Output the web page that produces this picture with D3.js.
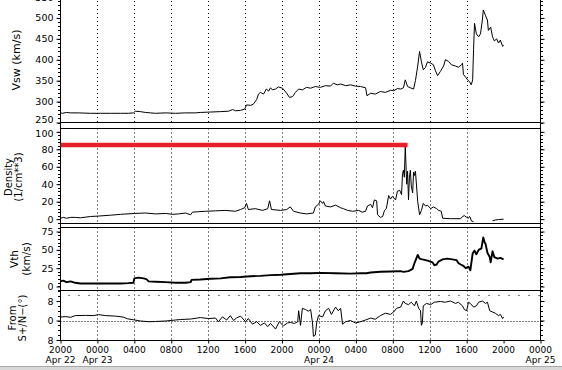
<!DOCTYPE html>
<html>
<head>
<meta charset="utf-8">
<script src="https://cdn.jsdelivr.net/npm/d3@7/dist/d3.min.js"></script>
<style>
  html, body { margin: 0; padding: 0; background: #fff; overflow: hidden; }
  svg { display: block; }
  text { font-family: "DejaVu Sans", sans-serif; fill: #000; }
</style>
</head>
<body>
<svg id="chart" width="562" height="370"></svg>
<script>
// ---------- DATA (hours since 2000 UT Apr 22) ----------
const xTickHours = [0, 4, 8, 12, 16, 20, 24, 28, 32, 36, 40, 44, 48, 52];
const xTickLabels = ["2000", "0000", "0400", "0800", "1200", "1600", "2000", "0000", "0400", "0800", "1200", "1600", "2000", "0000"];
const xDateLabels = ["Apr 22", "Apr 23", "", "", "", "", "", "Apr 24", "", "", "", "", "", "Apr 25"];
const gridHours = [4, 8, 12, 16, 20, 24, 28, 32, 36, 40, 44];

const vswTicks = [250, 300, 350, 400, 450, 500, 550];
const densTicks = [0, 20, 40, 60, 80, 100];
const vthTicks = [0, 25, 50, 75];
const angTicks = [-8, 0, 8];
const angTickLabels = ["8", "0", "8"];

const vswData = [
[0.0,273],[0.2,272],[0.65,274],[1.1,273],[1.95,273],[3.25,272],[4.35,272],[5.4,272],[6.5,272],[7.35,272],
[7.9,273],[8.1,277],[8.65,276],[9.2,274],[9.75,273],[10.3,272],[11.4,273],[12.45,272],[13.55,273],[14.6,273],
[15.15,274],[16.25,275],[17.35,276],[18.2,277],[18.65,281],[18.95,278],[19.5,279],[19.95,282],[20.15,292],[20.6,291],
[20.9,294],[21.25,305],[21.45,318],[21.65,322],[22.0,318],[22.3,330],[22.55,325],[22.75,333],[22.95,328],[23.3,330],
[23.6,335],[24.05,332],[24.5,320],[24.8,310],[25.15,312],[25.45,322],[25.8,330],[26.2,328],[26.65,334],[27.1,332],
[27.6,336],[28.15,334],[28.7,338],[29.25,337],[29.55,344],[30.0,340],[30.35,342],[30.9,338],[31.4,340],[31.95,337],
[32.5,336],[33.05,333],[33.2,314],[33.6,320],[34.1,318],[34.65,324],[35.2,322],[35.75,327],[36.1,326],[36.5,331],
[36.85,330],[37.15,333],[37.35,352],[37.6,336],[37.9,333],[38.25,330],[38.45,350],[38.7,385],[38.9,420],[39.1,395],
[39.3,376],[39.55,382],[39.75,395],[40.1,392],[40.4,388],[40.6,375],[40.85,362],[41.15,372],[41.5,385],[41.7,400],
[42.05,396],[42.35,388],[42.8,385],[43.1,382],[43.45,388],[43.55,392],[43.65,365],[43.9,358],[44.1,352],[44.3,348],
[44.5,340],[44.65,352],[44.75,425],[44.85,487],[45.05,462],[45.3,455],[45.5,462],[45.7,495],[45.8,519],[46.05,505],
[46.25,495],[46.35,470],[46.6,478],[46.8,455],[47.0,445],[47.25,450],[47.45,440],[47.65,447],[47.9,432],[48.0,435]
];

const densData = [
[0,1],[0.3,2],[0.65,1],[1.1,2],[1.6,2],[2.15,1.5],[3.25,3],[4.1,3.5],[5.4,4.5],[6.5,5.5],
[8.0,6.5],[9.2,7],[10.3,6],[11.4,6.5],[12.15,5.5],[12.8,6],[13.55,7],[14.1,5],[14.3,8],[14.95,8.5],
[15.7,9],[16.8,9.5],[17.85,10],[18.95,9],[19.5,11],[19.95,13],[20.15,18],[20.35,11],[21.1,12],[21.9,10],
[22.45,12],[22.65,21],[22.85,11],[23.85,10],[24.5,11],[24.9,14],[25.25,9],[26.0,7],[26.65,6],[27.4,7],
[27.6,14],[27.95,17],[28.15,21],[28.4,18],[28.5,20],[28.7,15],[29.25,14],[29.8,16],[30.35,13],[30.65,12],
[31.1,10],[31.65,9],[32.3,10],[32.7,8],[33.05,9],[33.25,15],[33.6,17],[33.8,13],[34.0,22],[34.25,21],
[34.35,5],[34.65,2],[34.9,3],[35.1,10],[35.3,12],[35.55,27],[35.75,23],[35.95,26],[36.3,22],[36.5,32],
[36.75,33],[36.95,28],[37.05,52],[37.15,56],[37.25,48],[37.35,85],[37.5,40],[37.6,55],[37.7,22],[37.8,48],
[37.9,56],[38.0,38],[38.15,30],[38.25,54],[38.35,50],[38.45,55],[38.7,20],[38.9,5],[39.1,10],[39.3,18],
[39.55,15],[39.75,16],[40.1,12],[40.4,14],[40.75,12],[40.95,10],[41.25,9],[41.4,1],[42.25,0.5],[43.35,0.5],
[43.55,3],[43.75,4],[44.0,2],[44.2,1],[44.3,3],[44.4,2],[44.5,-2],[44.75,-3],[45.0,null],
[46.8,-2],[47.1,-1],[47.45,-0.5],[48.0,0]
];

const markerHours = [0, 37.6];
const markerDensity = [85, 85];

const vthData = [
[0,7],[0.3,8],[0.65,6],[1.1,7],[1.6,5],[2.15,4],[3.25,4],[4.35,4],[5.4,4],[6.5,4],
[7.35,4.5],[7.9,5],[8.0,11],[8.45,12],[9.0,11],[9.3,10],[9.55,7],[10.3,6.5],[11.4,6],[12.45,5],
[13.55,5],[14.1,6],[14.2,9],[15.15,9.5],[16.25,10.5],[17.35,11],[18.4,12.5],[19.5,13],[20.6,14],[21.65,14.5],
[22.75,15.5],[23.85,16],[24.9,17],[26.0,18],[27.1,18],[28.15,18.5],[29.8,18],[31.4,17.5],[32.5,18],[33.15,18],
[33.6,19],[34.65,20],[35.75,20.5],[36.85,21],[37.15,20],[37.7,21],[38.15,24],[38.35,32],[38.7,43],[38.9,38],
[39.2,37],[39.55,36],[39.85,35],[40.3,33],[40.5,29],[40.75,30],[40.95,34],[41.4,37],[41.9,38],[42.45,37],
[42.9,36],[43.1,32],[43.35,30],[43.65,28],[43.9,25],[44.2,27],[44.4,22],[44.65,45],[44.85,49],[45.05,44],
[45.3,50],[45.6,52],[45.8,67],[45.95,60],[46.05,58],[46.25,46],[46.5,40],[46.6,33],[46.8,48],[47.0,40],
[47.35,38],[47.65,39],[48.0,37]
];

const angData = [
[0,1.4],[0.55,1.6],[1.1,1.3],[1.6,2],[2.7,2.1],[3.6,2],[4.1,2.4],[4.9,2],[5.95,1.8],[6.8,1.4],
[7.25,0.7],[7.9,0.3],[8.65,-0.2],[9.55,-0.5],[10.3,-0.4],[11.4,-0.2],[12.45,0.2],[13.0,0.4],[14.1,0.6],[15.15,1.2],
[16.05,0.8],[16.8,1],[17.1,-0.5],[17.55,1.5],[18.0,0.2],[18.4,2],[18.75,0],[19.05,1],[19.5,1.8],[20.05,-0.5],
[20.35,0.8],[20.8,-1.5],[21.25,-0.5],[21.65,-2],[22.1,-1],[22.45,-2.5],[22.75,-1.2],[23.3,-3.5],[23.7,-0.5],[24.15,-2.2],
[24.6,-1],[24.9,-0.8],[25.35,-1.2],[25.7,-0.5],[25.8,4],[26.0,-2],[26.2,5],[26.55,4.5],[26.85,3.8],[27.1,4.5],
[27.3,-1],[27.4,-6.5],[27.6,-6],[27.75,-1],[27.95,2],[28.4,1.5],[28.7,4],[29.05,5],[29.35,2.5],[29.8,5.5],
[30.1,4],[30.35,5],[30.55,-1.5],[30.9,-0.5],[31.4,0],[31.95,-1],[32.5,-0.5],[33.05,0.2],[33.6,1],[34.1,0.5],
[34.65,2],[35.2,3],[35.75,2.5],[36.1,3.5],[36.4,5],[36.85,5.5],[37.15,8],[37.35,7],[37.7,6.5],[38.0,7.5],
[38.35,6],[38.55,8],[38.8,5],[39.0,4],[39.1,-2],[39.2,-1],[39.3,6],[39.65,7],[40.1,6.5],[40.5,7.5],
[41.15,7.8],[41.7,7.5],[42.25,8],[42.8,7],[43.1,7.5],[43.55,6],[43.75,4.5],[44.0,4],[44.2,7.5],[44.4,7],
[44.75,5.5],[45.05,6],[45.3,7.5],[45.7,8],[46.05,7],[46.25,7.5],[46.5,4],[46.8,3.5],[47.1,3],[47.45,2],
[47.65,2.5],[47.9,0.8],[48.0,1.5]
];

// ---------- LAYOUT ----------
const svg = d3.select("#chart");
const X0 = 60.5, X1 = 540.5;
const x = d3.scaleLinear().domain([0, 52]).range([X0, X1]);

const panels = [
  { key: "vsw", top: -3, bottom: 122.5, domain: [250, 550], ticks: vswTicks, labels: vswTicks.map(String), minor: 10, data: vswData, width: 1,
    title: ["Vsw (km/s)"], titleX: [16], titleSize: 11, titleY: 60, shift: { 250: -3.5 } },
  { key: "dens", top: 128.5, bottom: 223.5, domain: [-5, 103.8], ticks: densTicks, labels: densTicks.map(String), minor: 4, data: densData, width: 1,
    title: ["Density", "(1/cm**3)"], titleX: [8, 18], titleSize: 10, titleY: 177, shift: { 100: 1.5 } },
  { key: "vth", top: 227.5, bottom: 290.5, domain: [-5.5, 80.5], ticks: vthTicks, labels: vthTicks.map(String), minor: 5, data: vthData, width: 1.9,
    title: ["Vth", "(km/s)"], titleX: [14, 26], titleSize: 10.5, titleY: 259, shift: {} },
  { key: "ang", top: 290.5, bottom: 340.5, domain: [-8.2, 12.3], ticks: angTicks, labels: angTickLabels, minor: 2, data: angData, width: 1,
    title: ["From", "S+/N\u2212(\u00b0)"], titleX: [12, 22], titleSize: 10, titleY: 318, shift: {} }
];

const clip = svg.append("defs");

panels.forEach((p, i) => {
  p.y = d3.scaleLinear().domain(p.domain).range([p.bottom, p.top]);
  const g = svg.append("g");
  clip.append("clipPath").attr("id", "clip" + i)
    .append("rect").attr("x", X0).attr("y", p.top).attr("width", X1 - X0).attr("height", p.bottom - p.top);

  g.selectAll("line.grid").data(gridHours).join("line")
    .attr("x1", d => Math.round(x(d)) + 0.5).attr("x2", d => Math.round(x(d)) + 0.5)
    .attr("y1", p.top).attr("y2", p.bottom)
    .attr("stroke", "#000").attr("stroke-width", 1).attr("stroke-dasharray", "1,3");

  g.append("line").attr("x1", X0).attr("x2", X1).attr("y1", p.top).attr("y2", p.top).attr("stroke", "#000");
  g.append("line").attr("x1", X0).attr("x2", X1).attr("y1", p.bottom).attr("y2", p.bottom).attr("stroke", "#000");

  const minorVals = d3.range(Math.ceil(p.domain[0] / p.minor) * p.minor, p.domain[1], p.minor);
  const left = d3.axisLeft(p.y).tickValues(p.ticks).tickFormat((d, j) => p.labels[j]).tickSize(4).tickPadding(3);
  const la = g.append("g").attr("transform", `translate(${X0},0)`).call(left);
  la.select(".domain").remove();
  la.selectAll("text").style("font-size", "9.5px").style("font-family", "DejaVu Sans")
    .attr("transform", d => `translate(0,${p.shift[d] || 0})`);
  g.append("g").selectAll("line").data(minorVals).join("line")
    .attr("x1", X0 - 2.5).attr("x2", X0).attr("y1", d => Math.round(p.y(d)) + 0.5).attr("y2", d => Math.round(p.y(d)) + 0.5)
    .attr("stroke", "#000");
  const right = d3.axisRight(p.y).tickValues(p.ticks).tickFormat("").tickSize(4);
  const ra = g.append("g").attr("transform", `translate(${X1},0)`).call(right);
  ra.select(".domain").remove();
  g.append("g").selectAll("line").data(minorVals).join("line")
    .attr("x1", X1).attr("x2", X1 + 2.5).attr("y1", d => Math.round(p.y(d)) + 0.5).attr("y2", d => Math.round(p.y(d)) + 0.5)
    .attr("stroke", "#000");

  p.title.forEach((t, k) => {
    svg.append("text")
      .attr("transform", `translate(${p.titleX[k]},${p.titleY}) rotate(-90)`)
      .attr("text-anchor", "middle").attr("dy", "0.35em")
      .style("font-size", p.titleSize + "px").text(t);
  });
});

const pa = panels[3];
svg.append("line").attr("x1", X0).attr("x2", X1).attr("y1", Math.round(pa.y(0)) + 0.5).attr("y2", Math.round(pa.y(0)) + 0.5)
  .attr("stroke", "#000").attr("stroke-dasharray", "1,2");
svg.append("line").attr("x1", X0 + 8).attr("x2", X1).attr("y1", Math.round(pa.y(10.6)) + 0.5).attr("y2", Math.round(pa.y(10.6)) + 0.5)
  .attr("stroke", "#000").attr("stroke-dasharray", "1,9");

svg.append("line").attr("x1", X0).attr("x2", X0).attr("y1", -3).attr("y2", 340.5).attr("stroke", "#000");
svg.append("line").attr("x1", X1).attr("x2", X1).attr("y1", -3).attr("y2", 340.5).attr("stroke", "#000");

panels.forEach((p, i) => {
  const line = d3.line().defined(d => d[1] !== null).x(d => x(d[0])).y(d => p.y(d[1]));
  svg.append("path").datum(p.data).attr("d", line)
    .attr("clip-path", `url(#clip${i})`)
    .attr("fill", "none").attr("stroke", "#000").attr("stroke-width", p.width).attr("stroke-linejoin", "round");
});

const pd = panels[1];
svg.append("line")
  .attr("x1", x(markerHours[0])).attr("x2", x(markerHours[1]))
  .attr("y1", pd.y(markerDensity[0])).attr("y2", pd.y(markerDensity[1]))
  .attr("stroke", "#e5202b").attr("stroke-width", 4.5);

const bottom = d3.axisBottom(x).tickValues(xTickHours).tickFormat("").tickSize(3);
const ba = svg.append("g").attr("transform", `translate(0,340.5)`).call(bottom);
ba.select(".domain").remove();
const lab = svg.append("g").attr("text-anchor", "middle").style("font-size", "9px");
lab.selectAll("text.t").data(xTickHours).join("text").attr("class", "t")
  .attr("x", d => x(d)).attr("y", 353).text((d, j) => xTickLabels[j]);
lab.selectAll("text.d").data(xTickHours).join("text").attr("class", "d")
  .attr("x", d => x(d)).attr("y", 362.5).text((d, j) => xDateLabels[j]);

svg.append("rect").attr("x", 0).attr("y", 367).attr("width", 562).attr("height", 3).attr("fill", "#d8d8d8");
svg.append("line").attr("x1", 0).attr("x2", 562).attr("y1", 366.5).attr("y2", 366.5).attr("stroke", "#a8a8a8");
</script>
</body>
</html>
